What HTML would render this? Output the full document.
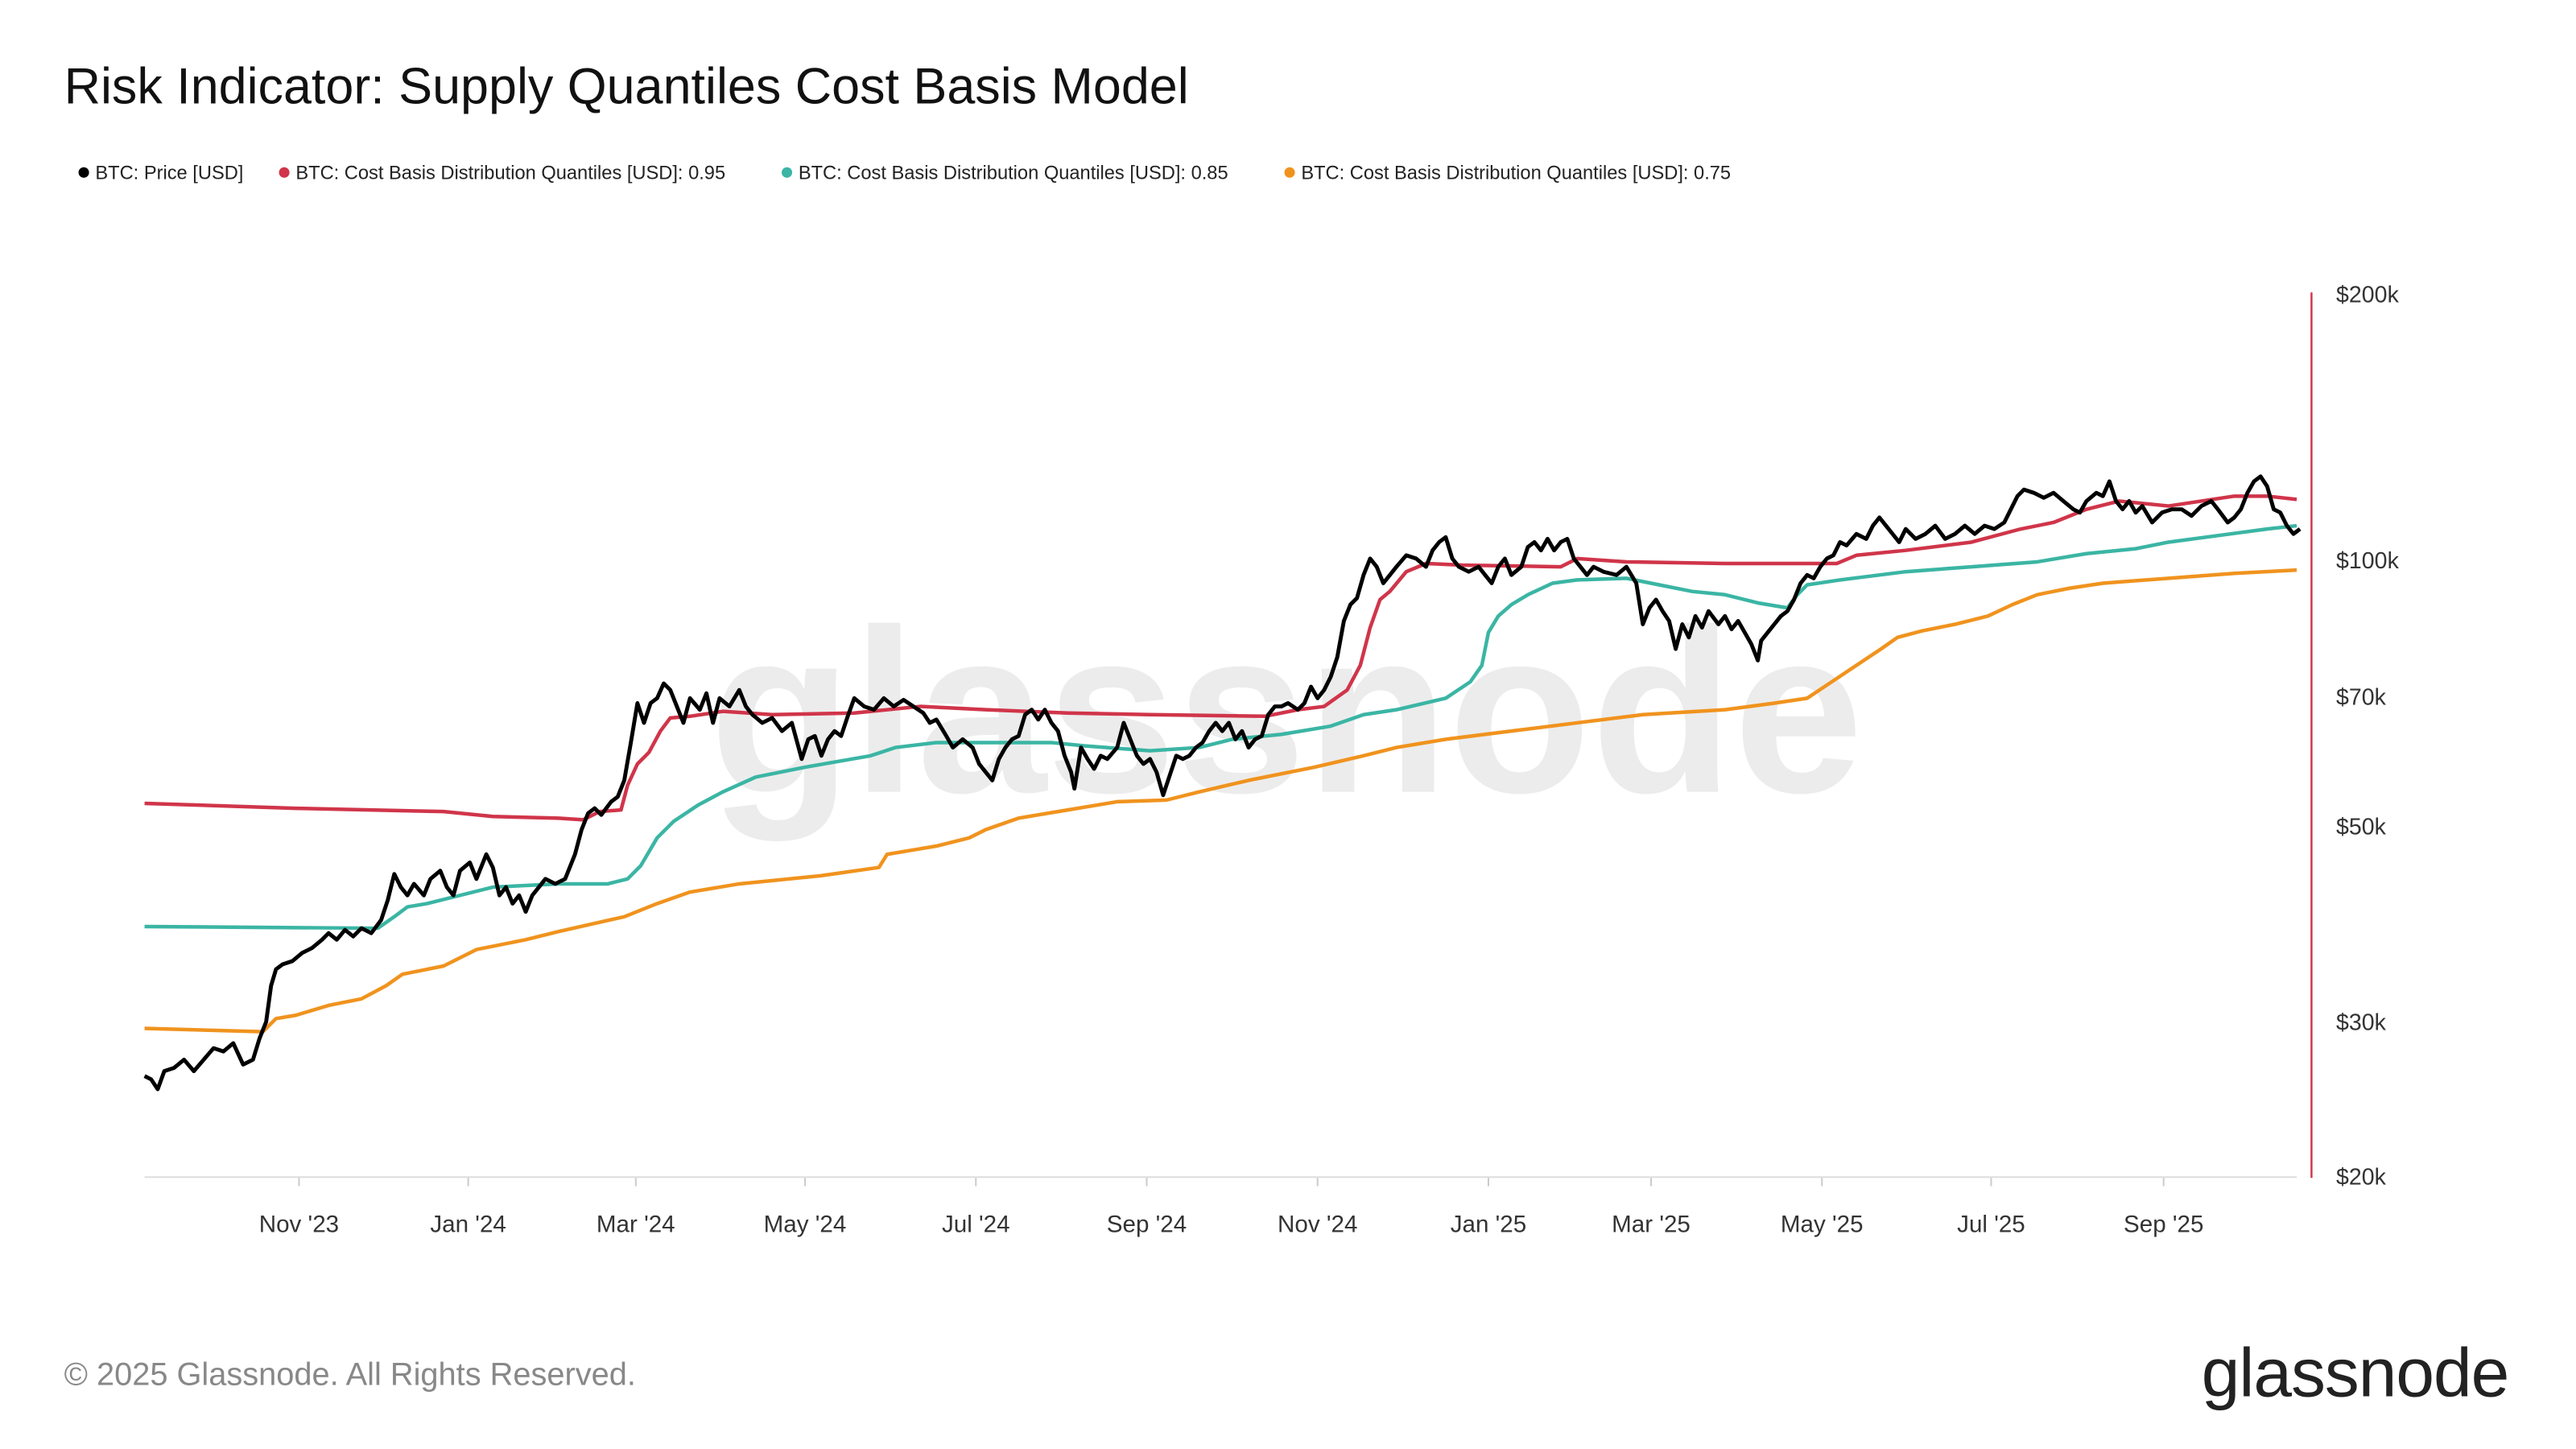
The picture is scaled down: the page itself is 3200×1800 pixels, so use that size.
<!DOCTYPE html>
<html><head><meta charset="utf-8"><style>
html,body{margin:0;padding:0;background:#fff;}
svg{display:block;}
text{font-family:"Liberation Sans",sans-serif;}
</style></head><body>
<svg width="3200" height="1800" viewBox="0 0 1568 882" preserveAspectRatio="none" xmlns="http://www.w3.org/2000/svg">
<rect width="1568" height="882" fill="#fff"/>
<text x="39" y="63" font-size="30.8" fill="#111">Risk Indicator: Supply Quantiles Cost Basis Model</text>
<g font-size="11.6" fill="#222">
<circle cx="51" cy="105" r="3.2" fill="#000"/><text x="58" y="109">BTC: Price [USD]</text>
<circle cx="173" cy="105" r="3.2" fill="#d0354a"/><text x="180" y="109">BTC: Cost Basis Distribution Quantiles [USD]: 0.95</text>
<circle cx="479" cy="105" r="3.2" fill="#3bb5a4"/><text x="486" y="109">BTC: Cost Basis Distribution Quantiles [USD]: 0.85</text>
<circle cx="785" cy="105" r="3.2" fill="#f0931e"/><text x="792" y="109">BTC: Cost Basis Distribution Quantiles [USD]: 0.75</text>
</g>
<text x="783" y="482" font-size="142" fill="#ececec" text-anchor="middle" font-weight="bold">glassnode</text>
<line x1="1407" y1="178" x2="1407" y2="717" stroke="#d0354a" stroke-width="1.2"/>
<line x1="88" y1="716.5" x2="1398" y2="716.5" stroke="#ddd" stroke-width="1"/>
<g font-size="14" fill="#333">
<text x="1422" y="184">$200k</text><text x="1422" y="346">$100k</text><text x="1422" y="429">$70k</text>
<text x="1422" y="508">$50k</text><text x="1422" y="627">$30k</text><text x="1422" y="721">$20k</text>
</g>
<g stroke="#ccc" stroke-width="1">
<line x1="182" y1="717" x2="182" y2="722"/><line x1="285" y1="717" x2="285" y2="722"/><line x1="387" y1="717" x2="387" y2="722"/><line x1="490" y1="717" x2="490" y2="722"/><line x1="594" y1="717" x2="594" y2="722"/><line x1="698" y1="717" x2="698" y2="722"/><line x1="802" y1="717" x2="802" y2="722"/><line x1="906" y1="717" x2="906" y2="722"/><line x1="1005" y1="717" x2="1005" y2="722"/><line x1="1109" y1="717" x2="1109" y2="722"/><line x1="1212" y1="717" x2="1212" y2="722"/><line x1="1317" y1="717" x2="1317" y2="722"/>
</g>
<g font-size="14.5" fill="#333" text-anchor="middle">
<text x="182" y="750">Nov '23</text><text x="285" y="750">Jan '24</text><text x="387" y="750">Mar '24</text><text x="490" y="750">May '24</text><text x="594" y="750">Jul '24</text><text x="698" y="750">Sep '24</text><text x="802" y="750">Nov '24</text><text x="906" y="750">Jan '25</text><text x="1005" y="750">Mar '25</text><text x="1109" y="750">May '25</text><text x="1212" y="750">Jul '25</text><text x="1317" y="750">Sep '25</text>
</g>
<g fill="none" stroke-width="2.2" stroke-linejoin="round">
<polyline stroke="#f0931e" points="88,626 160,628 168,620 180,618 200,612 220,608 235,600 245,593 270,588 290,578 320,572 340,567 380,558 400,550 420,543 450,538 500,533 535,528 540,520 570,515 590,510 600,505 620,498 650,493 680,488 710,487 730,482 760,475 800,467 830,460 850,455 880,450 920,445 960,440 1000,435 1050,432 1080,428 1100,425 1115,415 1130,405 1145,395 1155,388 1170,384 1190,380 1210,375 1225,368 1240,362 1260,358 1280,355 1320,352 1360,349 1398,347"/>
<polyline stroke="#3bb5a4" points="88,564 230,565 240,558 248,552 260,550 280,545 300,540 340,538 370,538 382,535 390,527 400,510 410,500 425,490 440,482 460,473 490,467 530,460 545,455 570,452 600,452 640,452 660,454 700,457 730,455 750,450 780,447 810,442 830,435 850,432 880,425 895,415 902,405 906,385 912,375 920,368 930,362 945,355 960,353 990,352 1005,355 1030,360 1050,362 1070,367 1088,370 1094,362 1100,356 1120,353 1160,348 1200,345 1240,342 1270,337 1300,334 1320,330 1350,326 1380,322 1398,320"/>
<polyline stroke="#d0354a" points="88,489 180,492 270,494 300,497 340,498 355,499 365,494 378,493 382,478 388,465 395,458 402,445 408,437 420,436 440,433 470,435 520,434 560,430 600,432 650,434 700,435 770,436 790,432 806,430 820,420 828,405 834,382 840,365 846,360 856,348 868,343 890,344 950,345 960,340 990,342 1050,343 1118,343 1130,338 1160,335 1200,330 1230,322 1250,318 1270,310 1290,305 1320,308 1360,302 1380,302 1398,304"/>
<polyline stroke="#000" stroke-width="2.4" points="88,655 92,657 96,663 100,652 106,650 112,645 118,652 124,645 130,638 136,640 142,635 148,648 154,645 158,632 162,622 165,600 168,590 172,587 178,585 184,580 190,577 196,572 200,568 205,572 210,566 215,570 220,565 226,568 232,560 236,548 240,532 244,540 248,545 252,538 258,545 262,535 268,530 272,540 276,545 280,530 286,525 290,535 296,520 300,528 304,545 308,540 312,550 316,545 320,555 324,545 328,540 332,535 338,538 344,535 350,520 354,505 358,495 362,492 366,496 372,488 376,485 380,475 384,452 388,428 392,440 396,428 400,425 404,416 408,420 412,430 416,440 420,425 426,432 430,422 434,440 438,425 444,430 450,420 454,430 458,435 464,440 470,437 476,445 482,440 488,462 492,450 496,448 500,460 504,450 508,445 512,448 516,436 520,425 526,430 532,432 538,425 544,430 550,426 556,430 562,434 566,440 570,438 576,448 580,455 586,450 592,455 596,465 600,470 604,475 608,462 612,455 616,450 620,448 624,435 628,432 632,438 636,432 640,440 644,445 648,460 652,470 654,480 658,455 662,462 666,468 670,460 674,462 680,455 684,440 688,450 692,460 696,465 700,462 704,470 708,484 712,472 716,460 720,462 724,460 728,455 732,452 736,445 740,440 744,445 748,440 752,450 756,445 760,455 764,450 768,448 772,435 776,430 780,430 784,428 790,432 794,428 798,418 802,425 806,420 810,412 814,400 818,378 822,368 826,364 830,350 834,340 838,345 842,355 846,350 850,345 856,338 862,340 868,345 872,335 876,330 880,327 884,340 888,345 894,348 900,345 904,350 908,355 912,345 916,340 920,350 926,345 930,333 934,330 938,335 942,328 946,335 950,330 954,328 958,340 962,345 966,350 970,345 976,348 984,350 990,345 996,355 1000,380 1004,370 1008,365 1012,372 1016,378 1020,395 1024,380 1028,388 1032,375 1036,382 1040,372 1046,380 1050,375 1054,383 1058,378 1062,385 1066,392 1070,402 1072,390 1076,385 1080,380 1084,375 1088,372 1092,365 1096,355 1100,350 1104,352 1108,345 1112,340 1116,338 1120,330 1124,332 1130,325 1136,328 1140,320 1144,315 1148,320 1152,325 1156,330 1160,322 1166,328 1172,325 1178,320 1184,328 1190,325 1196,320 1202,325 1208,320 1214,322 1220,318 1224,310 1228,302 1232,298 1238,300 1244,303 1250,300 1256,305 1262,310 1266,312 1270,305 1276,300 1280,302 1284,293 1288,305 1292,310 1296,305 1300,312 1304,308 1310,318 1316,312 1322,310 1328,310 1334,314 1340,308 1346,305 1350,310 1356,318 1360,315 1364,310 1368,300 1372,293 1376,290 1380,296 1384,310 1388,312 1392,320 1396,325 1400,322"/>
</g>
<text x="39" y="843" font-size="19.5" fill="#888">© 2025 Glassnode. All Rights Reserved.</text>
<text x="1527" y="850" font-size="42" fill="#222" text-anchor="end" letter-spacing="-0.5">glassnode</text>
</svg>
</body></html>
